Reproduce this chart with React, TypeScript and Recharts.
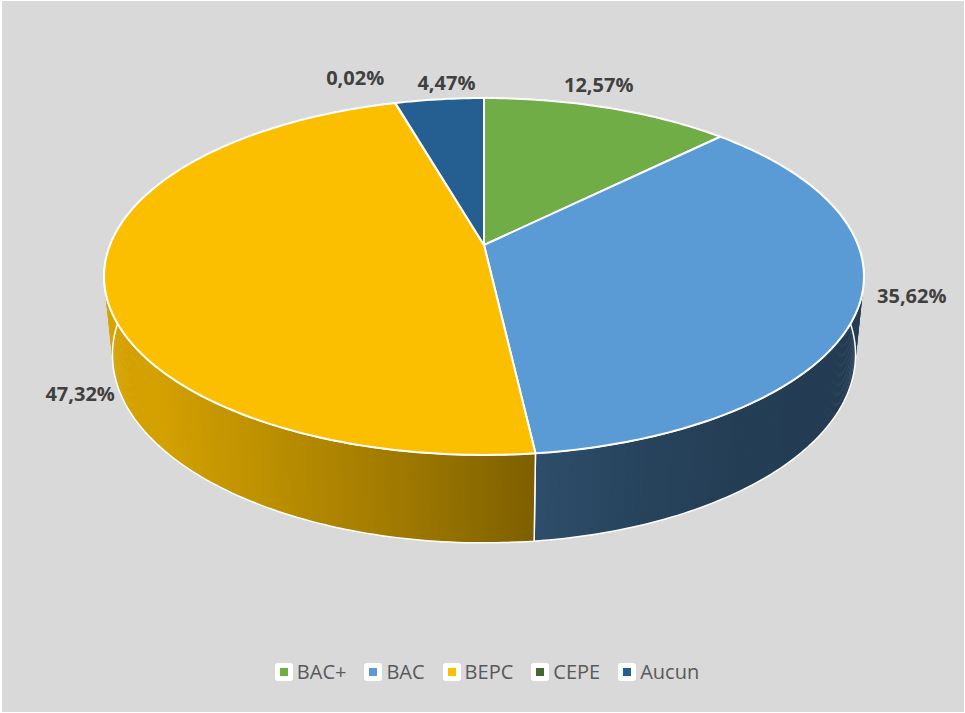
import { PieChart, Pie, Cell, Legend } from 'recharts';

const categories = ['BAC+', 'BAC', 'BEPC', 'CEPE', 'Aucun'];
const shares = [12.57, 35.62, 47.32, 0.02, 4.47];
const sliceColors = ['#70ad47', '#5b9bd5', '#fbbf00', '#43682b', '#255e91'];

const data = categories.map((name, i) => ({ name, value: shares[i] }));

// where Excel drops each label, relative to the rim point of its slice
const labelNudge: [number, number][] = [
  [-9, -23],
  [53, -10],
  [-24, 114],
  [-40, -25],
  [7, -16],
];

// camera for the fake 3d: tilt ~27.5deg, a bit of perspective
const SIN_A = 0.4623;
const COS_A = 0.8867;
const DIST = 5.024;
const THICK = 0.238;

// wall brightness by angle (deg clockwise from 12 o'clock)
const shadeStops: [number, number][] = [
  [60, 0.37],
  [90, 0.38],
  [144, 0.4],
  [158, 0.43],
  [173.5, 0.5],
  [184, 0.585],
  [196, 0.67],
  [212, 0.765],
  [230, 0.84],
  [270, 0.86],
  [300, 0.87],
];

type Pt = [number, number];

function project(cx: number, cy: number, r: number, theta: number, h: number): Pt {
  const t = (theta * Math.PI) / 180;
  const X = Math.sin(t);
  const Z = Math.cos(t);
  const depth = DIST - h * SIN_A + Z * COS_A;
  const up = h * COS_A + Z * SIN_A;
  return [cx + (r * DIST * X) / depth, cy - (r * DIST * up) / depth];
}

function arc(cx: number, cy: number, r: number, t0: number, t1: number, h: number): Pt[] {
  const n = Math.max(2, Math.ceil(Math.abs(t1 - t0)));
  const pts: Pt[] = [];
  for (let i = 0; i <= n; i++) pts.push(project(cx, cy, r, t0 + ((t1 - t0) * i) / n, h));
  return pts;
}

function shadeFactor(theta: number) {
  for (let i = 1; i < shadeStops.length; i++) {
    const [a, fa] = shadeStops[i - 1];
    const [b, fb] = shadeStops[i];
    if (theta <= b) return fa + ((fb - fa) * (theta - a)) / (b - a);
  }
  return shadeStops[shadeStops.length - 1][1];
}

function darken(hex: string, f: number) {
  const n = parseInt(hex.slice(1), 16);
  const c = [(n >> 16) & 255, (n >> 8) & 255, n & 255].map((v) => Math.round(Math.min(255, v * f)));
  return `rgb(${c[0]},${c[1]},${c[2]})`;
}

const toPath = (pts: Pt[]) => pts.map((p, i) => `${i ? 'L' : 'M'}${p[0].toFixed(2)},${p[1].toFixed(2)}`).join('');

function TopShape(props: any) {
  const { cx, cy, outerRadius, startAngle, endAngle, fill } = props;
  const t0 = 90 - startAngle;
  const t1 = 90 - endAngle;
  const d = `M${cx},${cy}` + toPath(arc(cx, cy, outerRadius, t0, t1, 0)).replace(/^M/, 'L') + 'Z';
  return <path d={d} fill={fill} stroke="#fff" strokeWidth={2} strokeLinejoin="round" />;
}

function WallShape(props: any) {
  const { cx, cy, outerRadius, startAngle, endAngle, fill } = props;
  const a = Math.max(90 - startAngle, 60);
  const b = Math.min(90 - endAngle, 300);
  if (a >= b) return <g />;
  const strips = [];
  const n = Math.ceil((b - a) * 2);
  for (let i = 0; i < n; i++) {
    const s = a + ((b - a) * i) / n;
    // overlap the next strip a little so no seams show
    const e = Math.min(b, a + ((b - a) * (i + 1.6)) / n);
    const pts = [
      project(cx, cy, outerRadius, s, 0),
      project(cx, cy, outerRadius, e, 0),
      project(cx, cy, outerRadius, e, -THICK),
      project(cx, cy, outerRadius, s, -THICK),
    ];
    const col = darken(fill, shadeFactor(a + ((b - a) * (i + 0.5)) / n));
    strips.push(<path key={i} d={toPath(pts) + 'Z'} fill={col} />);
  }
  const outline =
    toPath(arc(cx, cy, outerRadius, a, b, 0)) +
    toPath(arc(cx, cy, outerRadius, b, a, -THICK)).replace(/^M/, 'L') +
    'Z';
  return (
    <g>
      {strips}
      <path d={outline} fill="none" stroke="#fff" strokeWidth={1.5} strokeLinejoin="round" />
    </g>
  );
}

function renderLabel(props: any) {
  const { cx, cy, outerRadius, midAngle, value } = props;
  let idx = props.index;
  if (idx == null) idx = categories.indexOf(props.name ?? props.payload?.name);
  const [x, y] = project(cx, cy, outerRadius, 90 - midAngle, 0);
  const [dx, dy] = labelNudge[idx] ?? [0, 0];
  return (
    <text
      x={x + dx}
      y={y + dy + 7}
      textAnchor="middle"
      fontFamily="'Open Sans', sans-serif"
      fontWeight={700}
      fontSize={20}
      fill="#404040"
    >
      {Number(value).toFixed(2).replace('.', ',')}%
    </text>
  );
}

function renderLegend(props: any) {
  const seen = new Set<string>();
  let items = (props.payload ?? []).filter((p: any) => {
    if (seen.has(p.value)) return false;
    seen.add(p.value);
    return true;
  });
  if (!items.length) items = categories.map((c, i) => ({ value: c, color: sliceColors[i] }));
  items = [...items].sort((p: any, q: any) => categories.indexOf(p.value) - categories.indexOf(q.value));
  return (
    <div
      style={{
        display: 'flex',
        justifyContent: 'center',
        alignItems: 'center',
        gap: 18,
        paddingLeft: 9,
        fontFamily: "'Open Sans', sans-serif",
        fontSize: 20,
        lineHeight: '22px',
        color: '#595959',
      }}
    >
      {items.map((p: any) => (
        <div key={p.value} style={{ display: 'flex', alignItems: 'center', gap: 4 }}>
          <span
            style={{
              width: 18,
              height: 18,
              background: '#fff',
              borderRadius: 3,
              display: 'flex',
              alignItems: 'center',
              justifyContent: 'center',
            }}
          >
            <span style={{ width: 8, height: 8, background: p.color }} />
          </span>
          <span>{p.value}</span>
        </div>
      ))}
    </div>
  );
}

export default function App() {
  return (
    <div style={{ position: 'absolute', left: 0, top: 0, width: 965, height: 713, background: '#fff' }}>
      <div style={{ position: 'absolute', left: 2, top: 1, right: 1, bottom: 1, background: '#d9d9d9' }} />
      <div style={{ position: 'absolute', left: 0, top: 0 }}>
        <PieChart width={965} height={713} margin={{ top: 0, right: 0, bottom: 0, left: 0 }}>
          <Pie
            data={data}
            dataKey="value"
            nameKey="name"
            cx={484}
            cy={245}
            outerRadius={374}
            startAngle={90}
            endAngle={-270}
            stroke="none"
            legendType="none"
            shape={WallShape}
            activeShape={WallShape}
            inactiveShape={WallShape}
            isAnimationActive={false}
          >
            {data.map((d, i) => (
              <Cell key={d.name} fill={sliceColors[i]} />
            ))}
          </Pie>
          <Pie
            data={data}
            dataKey="value"
            nameKey="name"
            cx={484}
            cy={245}
            outerRadius={374}
            startAngle={90}
            endAngle={-270}
            stroke="none"
            shape={TopShape}
            activeShape={TopShape}
            inactiveShape={TopShape}
            label={renderLabel}
            labelLine={false}
            isAnimationActive={false}
          >
            {data.map((d, i) => (
              <Cell key={d.name} fill={sliceColors[i]} />
            ))}
          </Pie>
          <Legend
            content={renderLegend}
            itemSorter={null}
            wrapperStyle={{ position: 'absolute', left: 0, top: 661, width: 965, height: 22 }}
          />
        </PieChart>
      </div>
    </div>
  );
}
